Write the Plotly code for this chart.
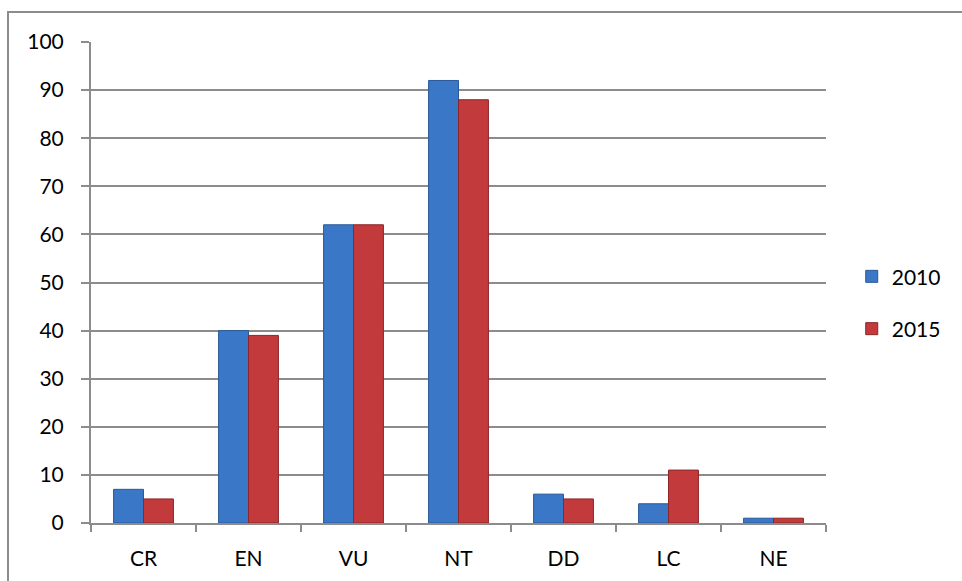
import plotly.graph_objects as go

categories = ["CR", "EN", "VU", "NT", "DD", "LC", "NE"]
values_2010 = [7, 40, 62, 92, 6, 4, 1]
values_2015 = [5, 39, 62, 88, 5, 11, 1]
y_ticks = [0, 10, 20, 30, 40, 50, 60, 70, 80, 90, 100]

fig = go.Figure()
fig.add_trace(go.Bar(
    x=categories, y=values_2010, name="2010", legendgroup="a",
    marker=dict(color="#3a77c6", line=dict(color="#2a5a99", width=1)),
))
fig.add_trace(go.Bar(
    x=categories, y=values_2015, name="2015", legendgroup="b",
    marker=dict(color="#c23a3c", line=dict(color="#8e2628", width=1)),
))

fig.update_layout(
    width=962, height=581,
    margin=dict(l=91, r=136, t=42, b=58),
    paper_bgcolor="white", plot_bgcolor="white",
    font=dict(family="Lato, 'Open Sans', sans-serif", size=21, color="#000000"),
    barmode="group", bargap=0.43, bargroupgap=0,
    showlegend=True,
    legend=dict(x=1.035, y=0.458, xanchor="left", yanchor="middle",
                font=dict(size=21), tracegroupgap=22,
                traceorder="grouped", itemwidth=30),
    xaxis=dict(
        type="category", showgrid=False, showline=True, linecolor="#8c8c8c", linewidth=2,
        ticks="outside", tickson="boundaries", ticklen=7, tickcolor="#8c8c8c", tickwidth=2,
        ticklabelstandoff=16, tickfont=dict(size=21),
    ),
    yaxis=dict(
        range=[0, 100], tickvals=y_ticks, showgrid=True, gridcolor="#8c8c8c", gridwidth=1.5,
        showline=True, linecolor="#8c8c8c", linewidth=2,
        ticks="outside", ticklen=8, tickcolor="#8c8c8c", tickwidth=2,
        ticklabelstandoff=13,
        zeroline=False, tickfont=dict(size=21),
    ),
    shapes=[dict(type="rect", xref="paper", yref="paper",
                 x0=-83/735, y0=-0.3, x1=1.3, y1=1 + 30/481,
                 line=dict(color="#8c8c8c", width=2), fillcolor="rgba(0,0,0,0)", layer="below")],
)

fig.write_html("out.html")
